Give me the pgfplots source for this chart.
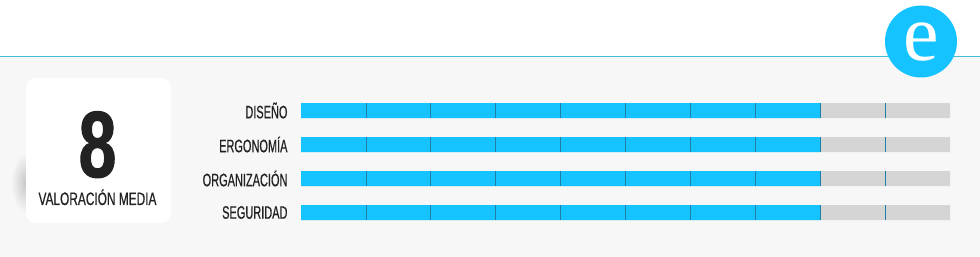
\documentclass[border=0pt]{standalone}
\usepackage{fontspec}
\setmainfont{Liberation Sans}[FakeStretch=0.61, FakeBold=0.5]
\newfontfamily\subfont{Liberation Sans}[FakeStretch=0.66, FakeBold=0.5]
\newfontfamily\bigfont{Liberation Sans}[FakeStretch=0.72, FakeBold=1.2]
\newfontfamily\efont{Liberation Serif}
\usepackage{pgfplots}
\pgfplotsset{compat=1.18}
\definecolor{barblue}{HTML}{14C3FF}
\definecolor{bargrey}{HTML}{D5D5D5}
\definecolor{sepcol}{HTML}{1F7EA6}
\definecolor{bggrey}{HTML}{F7F7F7}
\definecolor{tealline}{HTML}{45BFD6}
\definecolor{txt}{HTML}{222222}
\begin{document}
\begin{tikzpicture}[x=1pt,y=1pt]
\path[use as bounding box] (0,0) rectangle (980,257);
\fill[white] (0,200) rectangle (980,257);
\fill[bggrey] (0,0) rectangle (980,200);
\draw[tealline, line width=1.4pt] (0,200.5) -- (980,200.5);
% shadow
\shade[inner color=black!22, outer color=bggrey] (26,74) ellipse (15 and 30);
\fill[white, rounded corners=10pt] (26,34) rectangle (171,179);
\node[anchor=base, text=txt, inner sep=0pt, font={\bigfont\bfseries\fontsize{94}{94}\selectfont}] at (97.5,80) {8};
\node[anchor=base, text=txt, inner sep=0pt, font={\subfont\fontsize{18}{20}\selectfont}] at (97.5,52) {VALORACIÓN MEDIA};
\fill[barblue] (921,215.5) circle (36);
\node[anchor=base, text=white, inner sep=0pt, font={\efont\fontsize{80}{80}\selectfont}] at (921,196) {e};
\begin{axis}[
  at={(301pt,27.5pt)}, anchor=south west,
  scale only axis, width=649pt, height=136pt,
  xmin=0, xmax=10, ymin=-0.5, ymax=3.5,
  y dir=reverse,
  axis line style={draw=none},
  major tick length=0pt,
  xtick=\empty,
  ytick={0,1,2,3},
  yticklabels={DISEÑO,ERGONOMÍA,ORGANIZACIÓN,SEGURIDAD},
  yticklabel style={text=txt, font={\fontsize{18}{20}\selectfont}, xshift=-10pt},
  xbar, bar width=15pt, bar shift=0pt,
  clip=false,
]
\addplot[fill=bargrey, draw=none] coordinates {(10,0) (10,1) (10,2) (10,3)};
\addplot[fill=barblue, draw=none] coordinates {(8,0) (8,1) (8,2) (8,3)};
\addplot[only marks, mark=|, mark size=7.5pt, mark options={draw=sepcol, line width=0.8pt}] coordinates {
(1,0)(2,0)(3,0)(4,0)(5,0)(6,0)(7,0)(8,0)(9,0)
(1,1)(2,1)(3,1)(4,1)(5,1)(6,1)(7,1)(8,1)(9,1)
(1,2)(2,2)(3,2)(4,2)(5,2)(6,2)(7,2)(8,2)(9,2)
(1,3)(2,3)(3,3)(4,3)(5,3)(6,3)(7,3)(8,3)(9,3)};
\end{axis}
\end{tikzpicture}
\end{document}
